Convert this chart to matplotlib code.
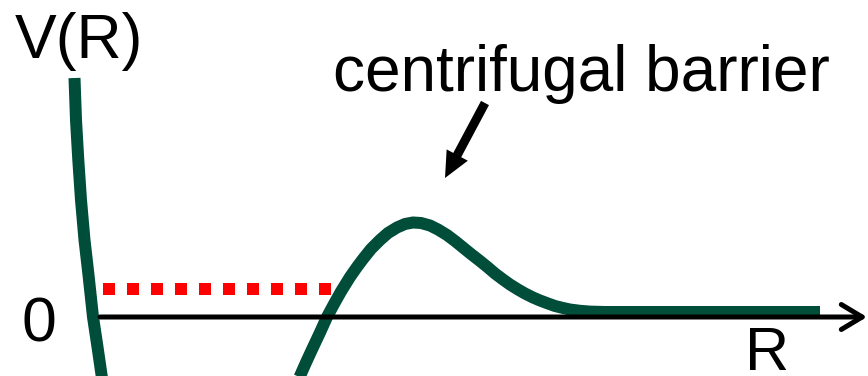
import numpy as np
import matplotlib
matplotlib.use("Agg")
import matplotlib.pyplot as plt
from matplotlib.patches import FancyArrow

plt.rcParams['font.family'] = ['Liberation Sans', 'DejaVu Sans']

# potential curve, repulsive wall (R, V) in drawing units
wall_R = [74.5, 76, 78.3, 81, 84.5, 88.5, 93, 97.5, 101.7, 104]
wall_V = [239, 197, 157, 117, 77, 42, 0, -30, -59, -78]

# well exit, centrifugal barrier and flat asymptote
barrier_R = [292, 300, 306, 312, 320, 327, 334, 341, 350, 357, 363, 371,
             380, 388, 397, 405, 413, 421, 430, 438, 447, 455, 463, 471,
             480, 488, 495, 503, 510, 518, 525, 533, 540, 548, 555, 563,
             570, 580, 590, 605, 820]
barrier_V = [-78, -59, -45.5, -32.5, -15.5, 0, 13, 25.5, 40, 50, 58, 68,
             77, 84, 89.5, 93, 94.5, 94, 91.5, 87.5, 82, 76, 69.5, 63,
             56, 49.5, 43.5, 37.5, 32.5, 27.5, 23.5, 19.5, 16.5, 13.5, 11, 9,
             7.5, 6.2, 5.4, 5, 5]

# quasi-bound level
level_R = [103, 331]
level_V = [28.5, 28.5]

# R axis extent
axis_R = [100, 867]

curve_col = '#004d3a'
px = 72 / 100  # points per pixel at dpi 100

fig = plt.figure(figsize=(8.68, 3.76), dpi=100)
ax = fig.add_axes([0, 0, 1, 1])
ax.set_xlim(0, 868)
ax.set_ylim(-59, 317)
ax.axis('off')

# R axis with open arrow head
ax.annotate('', xy=(axis_R[1], 0), xytext=(axis_R[0], 0),
            arrowprops=dict(arrowstyle='->,head_length=0.75,head_width=0.45',
                            lw=5 * px, color='black', mutation_scale=20,
                            shrinkA=0, shrinkB=0, capstyle='round',
                            joinstyle='round'))

ax.plot(level_R, level_V, color='#ff0000', lw=12 * px, dashes=(1, 1),
        solid_capstyle='butt', dash_capstyle='butt')

ax.plot(wall_R, wall_V, color=curve_col, lw=12 * px,
        solid_capstyle='butt', solid_joinstyle='round')
ax.plot(barrier_R, barrier_V, color=curve_col, lw=12 * px,
        solid_capstyle='butt', solid_joinstyle='round')

# labels
ax.text(15, 259, 'V(R)', fontsize=45, ha='left', va='baseline')
ax.text(39, -24.7, '0', fontsize=45, ha='center', va='baseline')
ax.text(745, -52.5, 'R', fontsize=44, ha='left', va='baseline')
ax.text(333, 226.3, 'centrifugal barrier', fontsize=46, ha='left',
        va='baseline')

ax.add_patch(FancyArrow(485, 214, -40, -75, width=9, head_width=24,
                        head_length=26, length_includes_head=True,
                        color='black', lw=0))

fig.savefig('out.png', dpi=100)
